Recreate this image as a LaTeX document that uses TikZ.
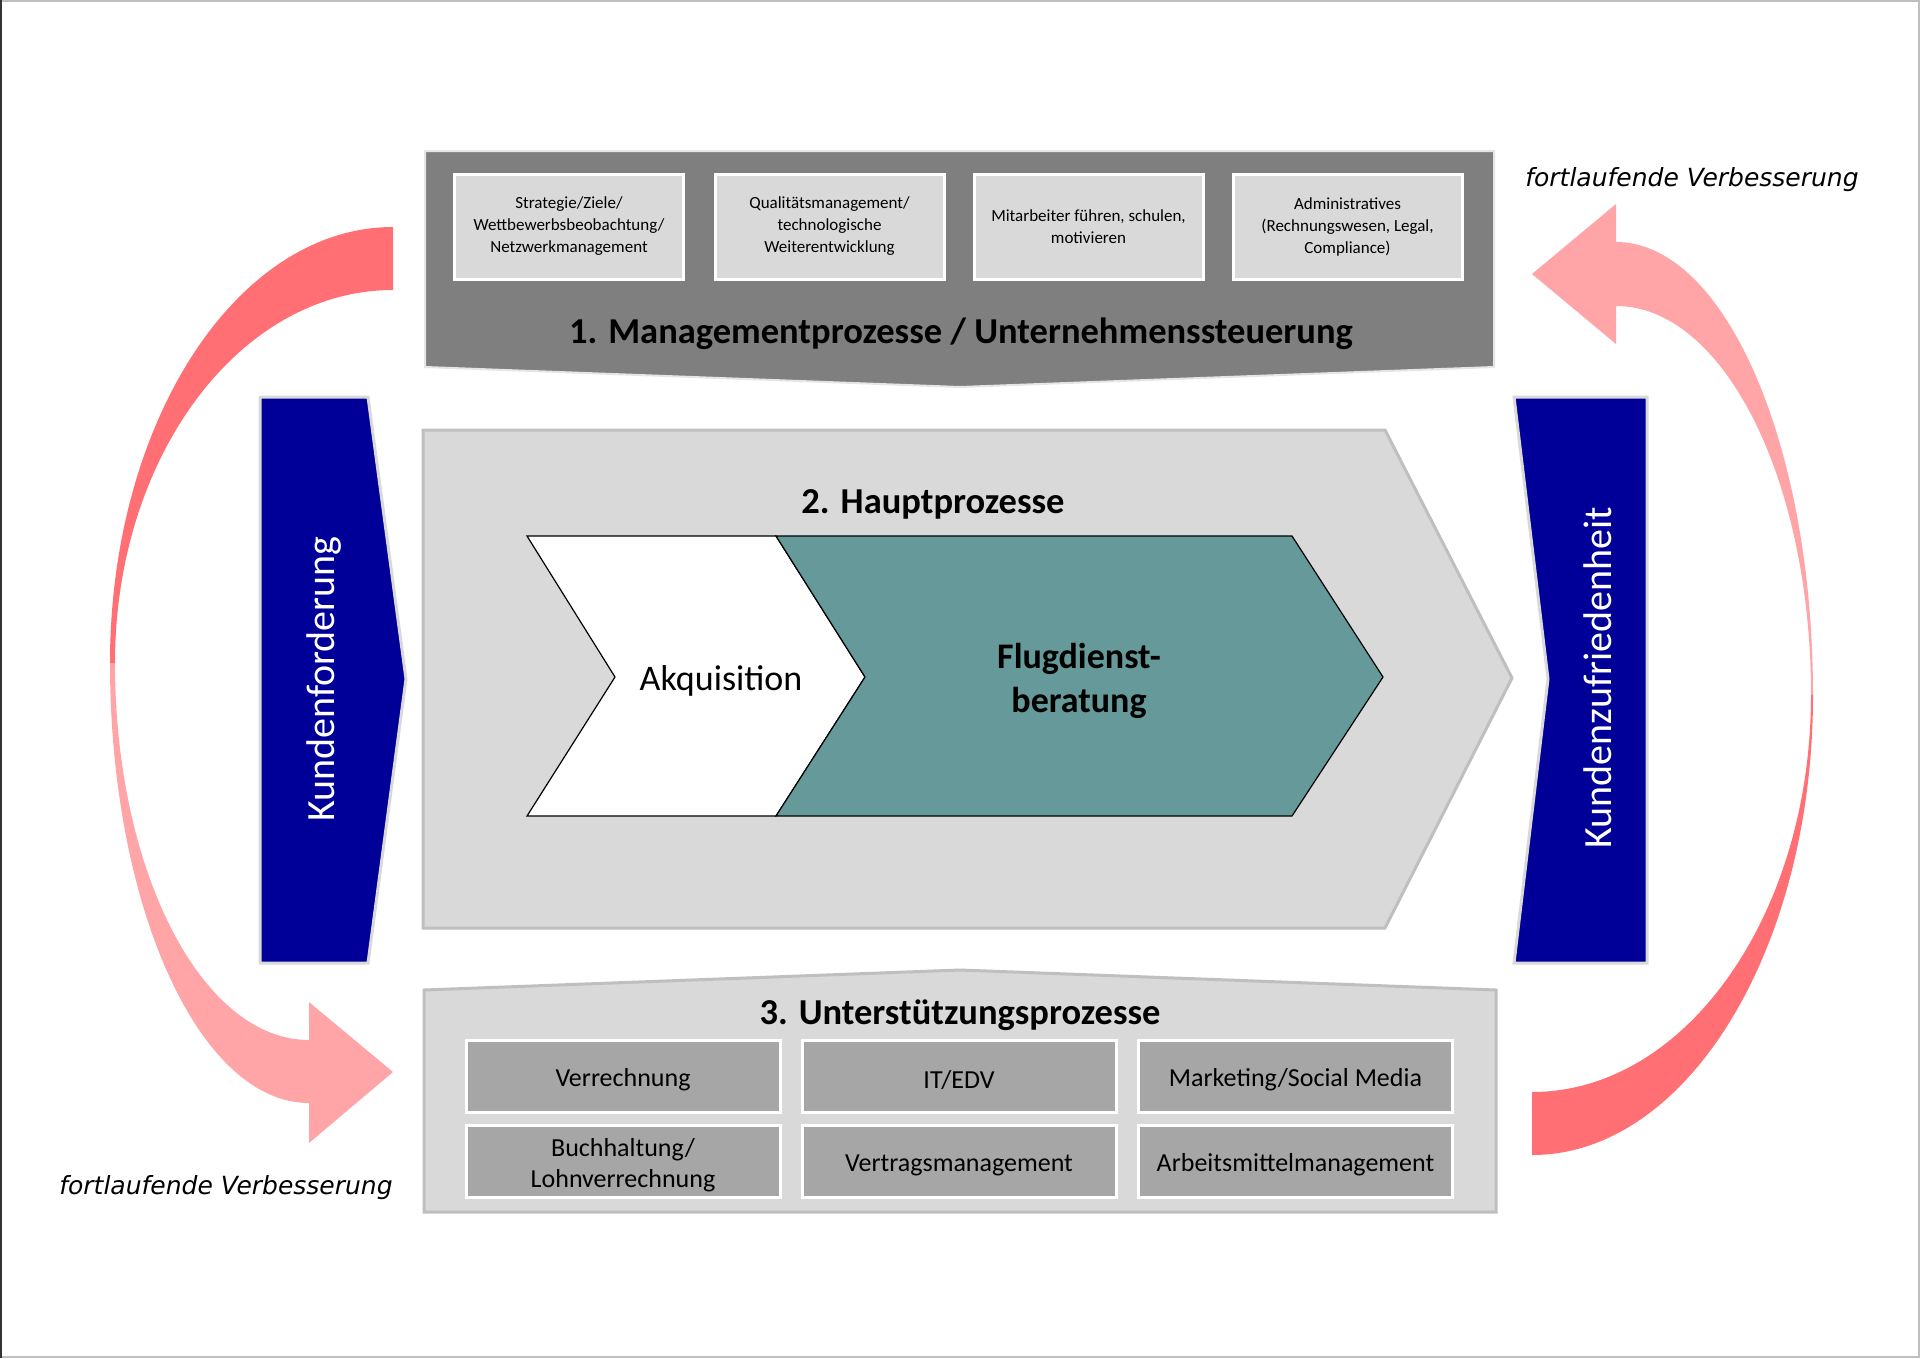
\documentclass[tikz,border=0pt]{standalone}
\usepackage{fontspec}
\setmainfont{Carlito}
\newfontfamily\dejavu{DejaVu Sans}
\definecolor{mgmt}{HTML}{7F7F7F}
\definecolor{lgray}{HTML}{D9D9D9}
\definecolor{bgray}{HTML}{BFBFBF}
\definecolor{mgray}{HTML}{A6A6A6}
\definecolor{tealc}{HTML}{669999}
\definecolor{navyc}{HTML}{000099}
\definecolor{arrdark}{HTML}{FF6F73}
\definecolor{arrlight}{HTML}{FFA5A8}
\tikzset{
  mbox/.style={draw=white, line width=3, fill=lgray, minimum width=229, minimum height=105, inner sep=0, align=center, font=\fontsize{17}{22}\selectfont},
  sbox/.style={draw=white, line width=3, fill=mgray, minimum width=314, minimum height=72, inner sep=0, align=center, font=\fontsize{26}{31}\selectfont},
  sboxtxt/.style={inner sep=0, align=center, font=\fontsize{26}{31}\selectfont},
  titletxt/.style={font=\bfseries\fontsize{36.5}{44}\selectfont, inner sep=0},
  kunden/.style={fill=navyc, draw=lgray, line width=3},
  kundtxt/.style={rotate=90, text=white, inner sep=0, font=\fontsize{40}{48}\selectfont},
  fvtxt/.style={inner sep=0, font=\dejavu\itshape\fontsize{25}{30}\selectfont},
  panel/.style={fill=lgray, draw=bgray, line width=3},
}
\begin{document}
\begin{tikzpicture}[x=1pt,y=-1pt]
\useasboundingbox (0,0) rectangle (1920,1358);
\fill[white] (0,0) rectangle (1920,1358);
\draw[bgray, line width=2] (1,1) rectangle (1919,1357);
\draw[black!80, line width=2] (1,0) -- (1,1358);

% curved arrows left
\fill[arrdark] (393,227) arc[start angle=-90, end angle=-180, x radius=283, y radius=436]
  -- (115,663) arc[start angle=180, end angle=270, x radius=278, y radius=373] -- cycle;
\fill[arrlight] (110,663) arc[start angle=180, end angle=90, x radius=199, y radius=440]
  -- (309,1143) -- (393,1072) -- (309,1002) -- (309,1040)
  arc[start angle=90, end angle=180, x radius=194, y radius=377] -- cycle;
% curved arrows right
\fill[arrlight] (1616,242) arc[start angle=-90, end angle=0, x radius=197, y radius=453]
  -- (1811,695) arc[start angle=0, end angle=-90, x radius=195, y radius=389]
  -- (1616,344) -- (1532,274) -- (1616,204) -- cycle;
\fill[arrdark] (1813,695) arc[start angle=0, end angle=90, x radius=281, y radius=460]
  -- (1532,1092) arc[start angle=90, end angle=0, x radius=279, y radius=397] -- cycle;

% management
\draw[fill=mgmt, draw=white!90!black, line width=2] (425,151) -- (1494,151) -- (1494,367) -- (960,387) -- (425,367) -- cycle;
\node[mbox] (m1) at (569,226.5) {Strategie/Ziele/\\Wettbewerbsbeobachtung/\\Netzwerkmanagement};
\node[mbox] (m2) at (829.5,226.5) {Qualitätsmanagement/\\technologische\\Weiterentwicklung};
\node[mbox] (m3) at (1088.5,226.5) {Mitarbeiter führen, schulen,\\motivieren};
\node[mbox] (m4) at (1347.5,226.5) {Administratives\\(Rechnungswesen, Legal,\\Compliance)};
\node[titletxt] (t1) at (961,334) {1. Managementprozesse / Unternehmenssteuerung};

% main processes
\draw[panel] (423,430) -- (1385,430) -- (1512,678) -- (1385,928) -- (423,928) -- cycle;
\node[titletxt] (t2) at (933,504) {2. Hauptprozesse};
\draw[fill=white, draw=black, line width=1.2] (527,536) -- (776,536) -- (865,677) -- (776,816) -- (527,816) -- (615,677) -- cycle;
\draw[fill=tealc, draw=black, line width=1.2] (776,536) -- (1292,536) -- (1383,677) -- (1292,816) -- (776,816) -- (865,677) -- cycle;
\node[inner sep=0, font=\fontsize{36}{44}\selectfont] (akq) at (721,681) {Akquisition};
\node[inner sep=0, align=center, font=\bfseries\fontsize{36}{44}\selectfont] (flug) at (1079,681) {Flugdienst-\\beratung};

% customer shapes
\draw[kunden] (260,397) -- (368,397) -- (406,679) -- (368,963) -- (260,963) -- cycle;
\node[kundtxt] (kf) at (324,679) {Kundenforderung};
\draw[kunden] (1514,397) -- (1647,397) -- (1647,963) -- (1514,963) -- (1548,679) -- cycle;
\node[kundtxt] (kz) at (1598,678) {Kundenzufriedenheit};

% support
\draw[panel] (424,990) -- (960,970) -- (1496,990) -- (1496,1212) -- (424,1212) -- cycle;
\node[titletxt] (t3) at (960,1015) {3. Unterstützungsprozesse};
\node[sbox] (s1) at (623,1076) {};
\node[sbox] (s2) at (959,1076) {};
\node[sbox] (s3) at (1295.5,1076) {};
\node[sbox] (s4) at (623,1161) {};
\node[sbox] (s5) at (959,1161) {};
\node[sbox] (s6) at (1295.5,1161) {};
\node[sboxtxt] (s1t) at ([yshift=-4]s1.center) {Verrechnung};
\node[sboxtxt] (s2t) at ([yshift=-4]s2.center) {IT/EDV};
\node[sboxtxt] (s3t) at ([yshift=-4]s3.center) {Marketing/Social Media};
\node[sboxtxt] (s4t) at ([yshift=-4]s4.center) {Buchhaltung/\\Lohnverrechnung};
\node[sboxtxt] (s5t) at ([yshift=-4]s5.center) {Vertragsmanagement};
\node[sboxtxt] (s6t) at ([yshift=-4]s6.center) {Arbeitsmittelmanagement};

% labels
\node[fvtxt] (fv1) at (1692,180) {fortlaufende Verbesserung};
\node[fvtxt] (fv2) at (226,1188) {fortlaufende Verbesserung};
\end{tikzpicture}
\end{document}
